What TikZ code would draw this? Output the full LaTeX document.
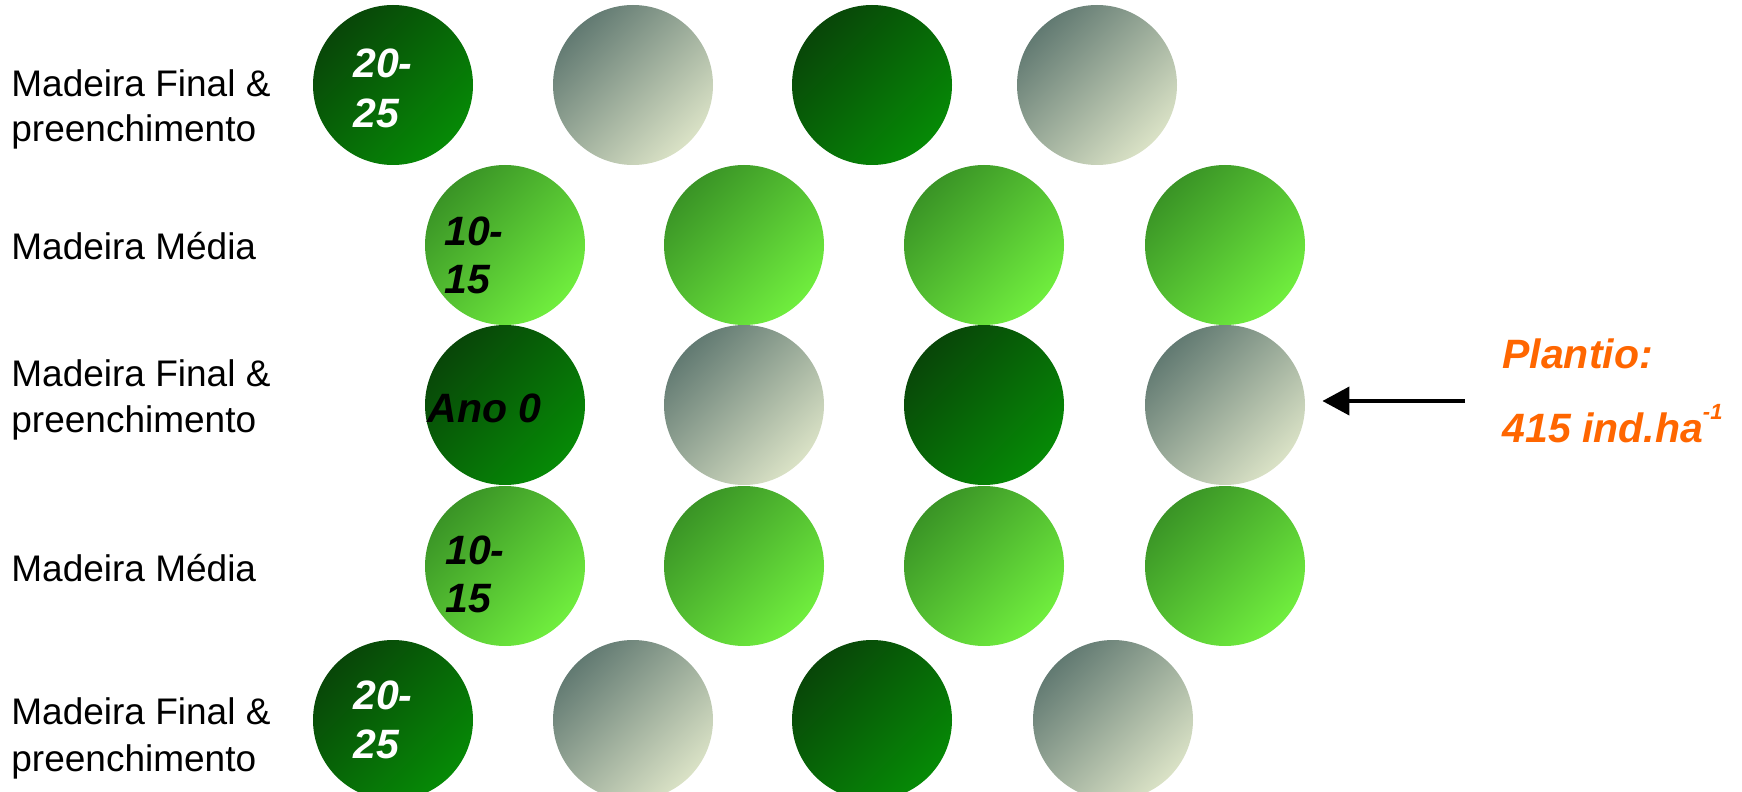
\documentclass[tikz,border=0pt]{standalone}
\usepackage{fontspec}
\setmainfont{Liberation Sans}
\usetikzlibrary{arrows.meta}
\definecolor{dkA}{RGB}{8,70,8}
\definecolor{dkB}{RGB}{6,138,6}
\definecolor{gyA}{RGB}{98,122,114}
\definecolor{gyB}{RGB}{218,226,198}
\definecolor{ltA}{RGB}{58,148,38}
\definecolor{ltB}{RGB}{112,238,62}
\definecolor{plant}{RGB}{255,102,0}
\begin{document}
\begin{tikzpicture}[x=0.5pt,y=-0.5pt,
  tree/.style={circle, minimum size=80pt, inner sep=0pt},
  dark/.style={tree, top color=dkA, bottom color=dkB, shading angle=45},
  gray/.style={tree, top color=gyA, bottom color=gyB, shading angle=45},
  light/.style={tree, top color=ltA, bottom color=ltB, shading angle=45},
  rowlabel/.style={anchor=base west, inner sep=0pt, font=\fontsize{18.5pt}{22pt}\selectfont},
  agelabel/.style={anchor=base west, inner sep=0pt, font=\fontsize{20.5pt}{25pt}\selectfont\bfseries\itshape},
  plantlabel/.style={anchor=base west, inner sep=0pt, text=plant, font=\fontsize{20.5pt}{25pt}\selectfont\bfseries\itshape},
  pointer/.style={-{Triangle[length=13.5pt,width=14pt]}, line width=2pt}
]
\useasboundingbox (0,0) rectangle (1742,792);

% row 1
\node[dark] (c11) at (393,85) {};
\node[gray] (c12) at (633,85) {};
\node[dark] (c13) at (872,85) {};
\node[gray] (c14) at (1097,85) {};
% row 2
\node[light] (c21) at (505,245) {};
\node[light] (c22) at (744,245) {};
\node[light] (c23) at (984,245) {};
\node[light] (c24) at (1225,245) {};
% row 3
\node[dark] (c31) at (505,405) {};
\node[gray] (c32) at (744,405) {};
\node[dark] (c33) at (984,405) {};
\node[gray] (c34) at (1225,405) {};
% row 4
\node[light] (c41) at (505,566) {};
\node[light] (c42) at (744,566) {};
\node[light] (c43) at (984,566) {};
\node[light] (c44) at (1225,566) {};
% row 5
\node[dark] (c51) at (393,720) {};
\node[gray] (c52) at (633,720) {};
\node[dark] (c53) at (872,720) {};
\node[gray] (c54) at (1113,720) {};

% labels inside circles
\node[agelabel, text=white] (a1a) at (353,78) {20-};
\node[agelabel, text=white] (a1b) at (353,128) {25};
\node[agelabel] (a2a) at (444,245) {10-};
\node[agelabel] (a2b) at (444,293) {15};
\node[agelabel] (a3) at (427,422) {Ano 0};
\node[agelabel] (a4a) at (445,564) {10-};
\node[agelabel] (a4b) at (445,612) {15};
\node[agelabel, text=white] (a5a) at (353,709) {20-};
\node[agelabel, text=white] (a5b) at (353,758) {25};

% row labels
\node[rowlabel] (r1a) at (11,97) {Madeira Final \&};
\node[rowlabel] (r1b) at (11,141) {preenchimento};
\node[rowlabel] (r2) at (11,259) {Madeira Média};
\node[rowlabel] (r3a) at (11,386) {Madeira Final \&};
\node[rowlabel] (r3b) at (11,432) {preenchimento};
\node[rowlabel] (r4) at (11,581) {Madeira Média};
\node[rowlabel] (r5a) at (11,724) {Madeira Final \&};
\node[rowlabel] (r5b) at (11,771) {preenchimento};

% planting density
\node[plantlabel] (p1) at (1502,368) {Plantio:};
\node[plantlabel] (p2) at (1502,442) {415 ind.ha\raisebox{0.55em}{\fontsize{11pt}{11pt}\selectfont-1}};

\coordinate (arrowstart) at (1465,401);
\draw[pointer, shorten >=8.5pt] (arrowstart) -- (arrowstart -| c34.east);
\end{tikzpicture}
\end{document}
